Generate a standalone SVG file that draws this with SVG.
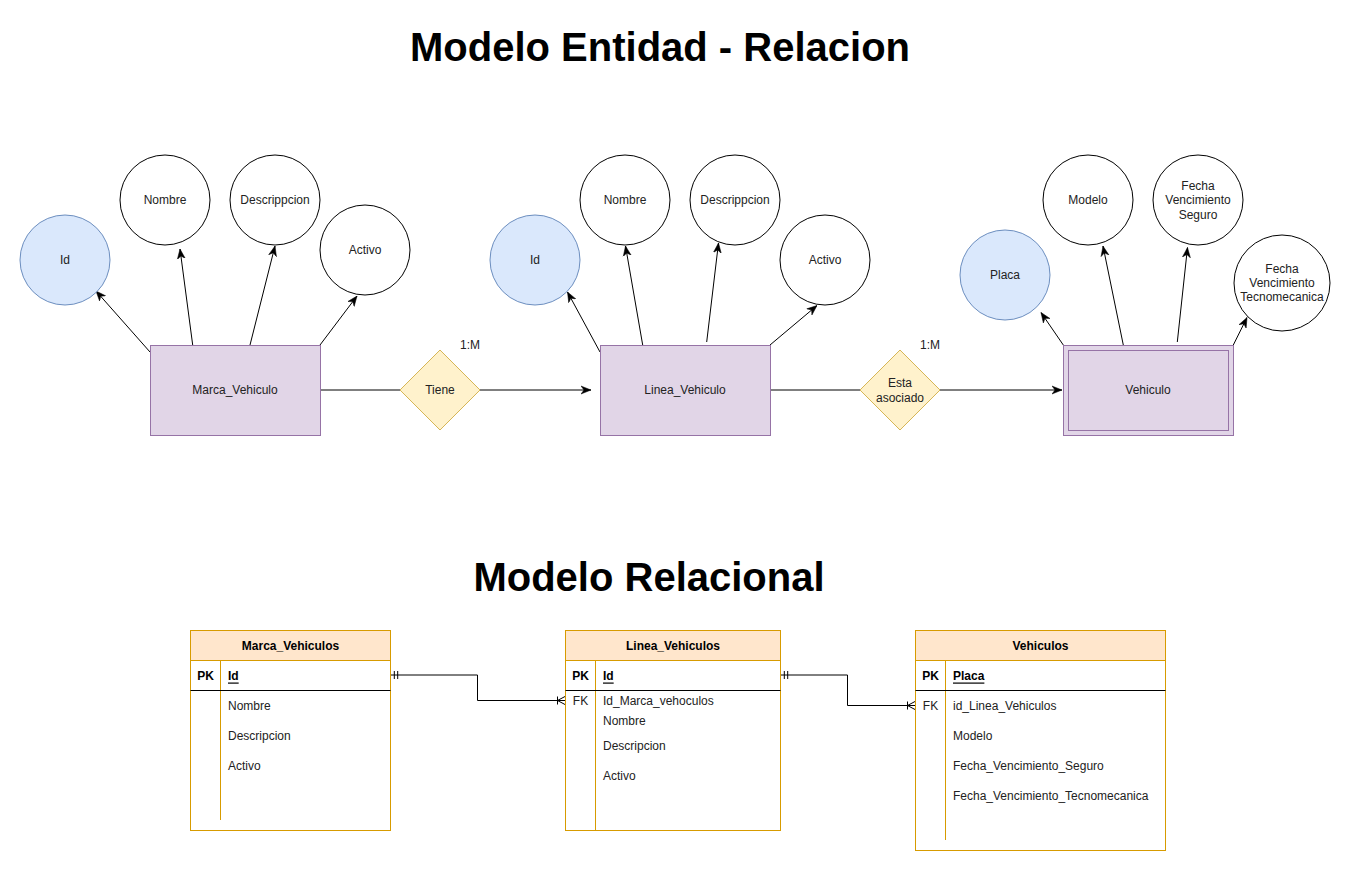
<svg xmlns="http://www.w3.org/2000/svg" width="1351" height="871" viewBox="0 0 1351 871">
<style>
text{font-family:"Liberation Sans",Arial,sans-serif;font-size:12px;fill:#222}
.c{text-anchor:middle;dominant-baseline:central}
.title{font-size:40px;font-weight:bold;fill:#000;text-anchor:middle}
.ent{fill:#e1d5e7;stroke:#9673a6;stroke-width:1}
.attr{fill:#fff;stroke:#000;stroke-width:1}
.key{fill:#dae8fc;stroke:#6c8ebf;stroke-width:1}
.rel{fill:#fff2cc;stroke:#d6b656;stroke-width:1}
.tbl{fill:#fff;stroke:#d79b00;stroke-width:1}
.hdr{fill:#ffe6cc;stroke:#d79b00;stroke-width:1}
.div{stroke:#d79b00;stroke-width:1}
.sep{stroke:#000;stroke-width:1}
.b{font-weight:bold;fill:#000}
.u{text-decoration:underline}
.ln{fill:none;stroke:#000;stroke-width:1}
.arr{fill:none;stroke:#000;stroke-width:1;marker-end:url(#ah)}
</style>
<defs>
<marker id="ah" markerUnits="userSpaceOnUse" markerWidth="10" markerHeight="10" viewBox="0 0 10 10" refX="10" refY="5" orient="auto">
<path d="M0,1 L10,5 L0,9 L3,5 Z" fill="#000" stroke="#000" stroke-width="0.5"/>
</marker>
</defs>
<rect width="1351" height="871" fill="#fff"/>

<text class="title" x="660" y="61">Modelo Entidad - Relacion</text>
<text class="title" x="649" y="591">Modelo Relacional</text>

<g id="connectors">
<line class="arr" x1="150" y1="352" x2="96" y2="291"/>
<line class="arr" x1="192.7" y1="345" x2="180" y2="249"/>
<line class="arr" x1="250" y1="345" x2="275" y2="246"/>
<line class="arr" x1="320" y1="345" x2="357" y2="296"/>
<line class="arr" x1="600" y1="352" x2="567.5" y2="292"/>
<line class="arr" x1="642.7" y1="345" x2="625.5" y2="246"/>
<line class="arr" x1="706.7" y1="342" x2="718.5" y2="243"/>
<line class="arr" x1="770" y1="345" x2="817" y2="305.5"/>
<line class="arr" x1="1063.3" y1="345" x2="1041" y2="312.5"/>
<line class="arr" x1="1123.3" y1="345" x2="1103" y2="246"/>
<line class="arr" x1="1177.3" y1="342" x2="1187.5" y2="247.5"/>
<line class="arr" x1="1233.3" y1="345" x2="1247" y2="317.5"/>
<line class="ln" x1="320" y1="390" x2="400" y2="390"/>
<line class="arr" x1="480" y1="390" x2="591" y2="390"/>
<line class="ln" x1="770" y1="390" x2="860" y2="390"/>
<line class="arr" x1="940" y1="390" x2="1062" y2="390"/>
<polyline class="ln" points="390,675 477.5,675 477.5,700.5 565,700.5"/>
<line class="ln" x1="394.3" y1="671" x2="394.3" y2="679"/>
<line class="ln" x1="397.7" y1="671" x2="397.7" y2="679"/>
<line class="ln" x1="557.5" y1="696.5" x2="557.5" y2="704.5"/>
<polyline class="ln" points="565,696.5 557.5,700.5 565,704.5"/>
<polyline class="ln" points="780,675 847.5,675 847.5,705.5 915,705.5"/>
<line class="ln" x1="784.3" y1="671" x2="784.3" y2="679"/>
<line class="ln" x1="787.7" y1="671" x2="787.7" y2="679"/>
<line class="ln" x1="907.5" y1="701.5" x2="907.5" y2="709.5"/>
<polyline class="ln" points="915,701.5 907.5,705.5 915,709.5"/>
<text class="c" x="470" y="345">1:M</text>
<text class="c" x="930" y="345">1:M</text>
</g>

<g id="marca_vehiculo"><rect class="ent" x="150.5" y="345.5" width="170" height="90"/><text class="c" x="235" y="390">Marca_Vehiculo</text></g>
<g id="marca_id"><circle class="key" cx="65" cy="260" r="45"/><text class="c" x="65" y="260">Id</text></g>
<g id="marca_nombre"><circle class="attr" cx="165" cy="200" r="45"/><text class="c" x="165" y="200">Nombre</text></g>
<g id="marca_desc"><circle class="attr" cx="275" cy="200" r="45"/><text class="c" x="275" y="200">Descrippcion</text></g>
<g id="marca_activo"><circle class="attr" cx="365" cy="250" r="45"/><text class="c" x="365" y="250">Activo</text></g>

<g id="tiene"><polygon class="rel" points="440,350 480,390 440,430 400,390"/><text class="c" x="440" y="390">Tiene</text></g>

<g id="linea_vehiculo"><rect class="ent" x="600.5" y="345.5" width="170" height="90"/><text class="c" x="685" y="390">Linea_Vehiculo</text></g>
<g id="linea_id"><circle class="key" cx="535" cy="260" r="45"/><text class="c" x="535" y="260">Id</text></g>
<g id="linea_nombre"><circle class="attr" cx="625" cy="200" r="45"/><text class="c" x="625" y="200">Nombre</text></g>
<g id="linea_desc"><circle class="attr" cx="735" cy="200" r="45"/><text class="c" x="735" y="200">Descrippcion</text></g>
<g id="linea_activo"><circle class="attr" cx="825" cy="260" r="45"/><text class="c" x="825" y="260">Activo</text></g>

<g id="esta_asociado"><polygon class="rel" points="900,350 940,390 900,430 860,390"/><text class="c" x="900" y="382.5">Esta</text><text class="c" x="900" y="397.5">asociado</text></g>

<g id="vehiculo"><rect class="ent" x="1063.5" y="345.5" width="170" height="90"/><rect fill="none" stroke="#9673a6" x="1068.5" y="350.5" width="160" height="80"/><text class="c" x="1148" y="390">Vehiculo</text></g>
<g id="veh_placa"><circle class="key" cx="1005" cy="275" r="45"/><text class="c" x="1005" y="275">Placa</text></g>
<g id="veh_modelo"><circle class="attr" cx="1088" cy="200" r="45"/><text class="c" x="1088" y="200">Modelo</text></g>
<g id="veh_seguro"><circle class="attr" cx="1198" cy="200" r="45"/><text class="c" x="1198" y="185.5">Fecha</text><text class="c" x="1198" y="200">Vencimiento</text><text class="c" x="1198" y="214.5">Seguro</text></g>
<g id="veh_tecno"><circle class="attr" cx="1282" cy="283" r="48"/><text class="c" x="1282" y="269">Fecha</text><text class="c" x="1282" y="283">Vencimiento</text><text class="c" x="1282" y="297">Tecnomecanica</text></g>

<g id="tbl_marca">
<rect class="tbl" x="190.5" y="630.5" width="200" height="200"/>
<rect class="hdr" x="190.5" y="630.5" width="200" height="30"/>
<line class="div" x1="220.5" y1="660.5" x2="220.5" y2="820"/>
<line class="sep" x1="190.5" y1="690.5" x2="390.5" y2="690.5"/>
<text class="c b" x="290.5" y="645.5">Marca_Vehiculos</text>
<text class="c b" x="205.5" y="675.5">PK</text>
<text class="b u" x="228" y="675.5" dominant-baseline="central">Id</text>
<text x="228" y="705.5" dominant-baseline="central">Nombre</text>
<text x="228" y="735.5" dominant-baseline="central">Descripcion</text>
<text x="228" y="765.5" dominant-baseline="central">Activo</text>
</g>

<g id="tbl_linea">
<rect class="tbl" x="565.5" y="630.5" width="215" height="200"/>
<rect class="hdr" x="565.5" y="630.5" width="215" height="30"/>
<line class="div" x1="595.5" y1="660.5" x2="595.5" y2="830.5"/>
<line class="sep" x1="565.5" y1="690.5" x2="780.5" y2="690.5"/>
<text class="c b" x="673" y="645.5">Linea_Vehiculos</text>
<text class="c b" x="580.5" y="675.5">PK</text>
<text class="b u" x="603" y="675.5" dominant-baseline="central">Id</text>
<text class="c" x="580.5" y="700.5">FK</text>
<text x="603" y="700.5" dominant-baseline="central">Id_Marca_vehoculos</text>
<text x="603" y="720.5" dominant-baseline="central">Nombre</text>
<text x="603" y="745.5" dominant-baseline="central">Descripcion</text>
<text x="603" y="775.5" dominant-baseline="central">Activo</text>
</g>

<g id="tbl_vehiculos">
<rect class="tbl" x="915.5" y="630.5" width="250" height="220"/>
<rect class="hdr" x="915.5" y="630.5" width="250" height="30"/>
<line class="div" x1="945.5" y1="660.5" x2="945.5" y2="840"/>
<line class="sep" x1="915.5" y1="690.5" x2="1165.5" y2="690.5"/>
<text class="c b" x="1040.5" y="645.5">Vehiculos</text>
<text class="c b" x="930.5" y="675.5">PK</text>
<text class="b u" x="953" y="675.5" dominant-baseline="central">Placa</text>
<text class="c" x="930.5" y="705.5">FK</text>
<text x="953" y="705.5" dominant-baseline="central">id_Linea_Vehiculos</text>
<text x="953" y="735.5" dominant-baseline="central">Modelo</text>
<text x="953" y="765.5" dominant-baseline="central">Fecha_Vencimiento_Seguro</text>
<text x="953" y="795.5" dominant-baseline="central">Fecha_Vencimiento_Tecnomecanica</text>
</g>
</svg>
